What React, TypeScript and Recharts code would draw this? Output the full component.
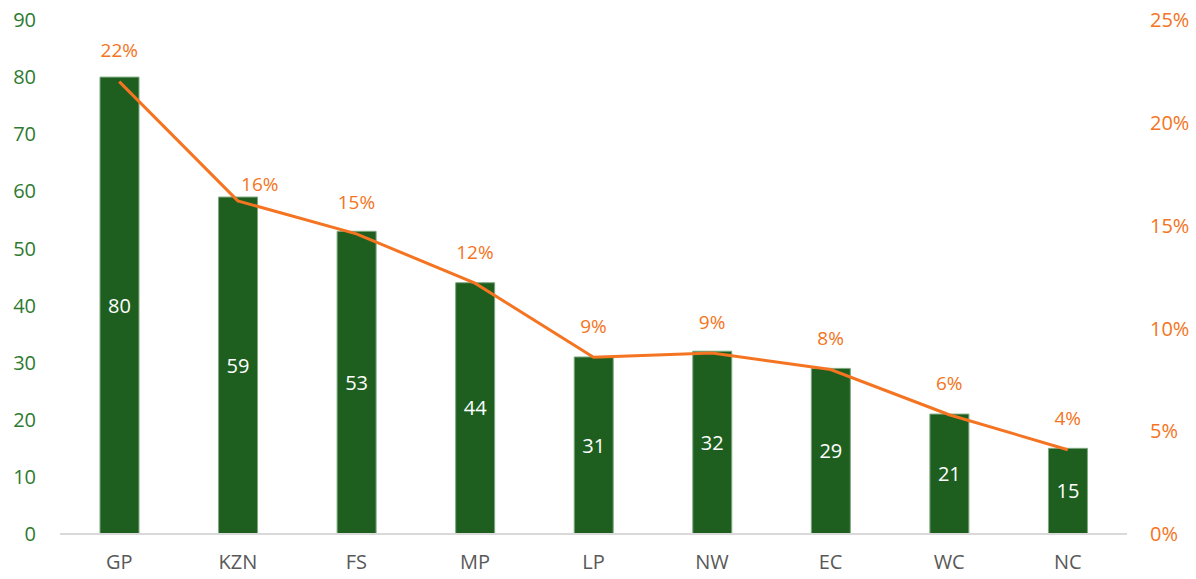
import { ComposedChart, Bar, Line, XAxis, YAxis, CartesianGrid, LabelList } from "recharts";

const provinces = ["GP", "KZN", "FS", "MP", "LP", "NW", "EC", "WC", "NC"];
const counts = [80, 59, 53, 44, 31, 32, 29, 21, 15];
const shares = [0.22, 0.162, 0.146, 0.122, 0.086, 0.088, 0.08, 0.058, 0.041];
const leftTicks = [0, 10, 20, 30, 40, 50, 60, 70, 80, 90];
const rightTicks = [0, 0.05, 0.1, 0.15, 0.2, 0.25];

const data = provinces.map((p, i) => ({ name: p, count: counts[i], share: shares[i] }));

const GREEN = "#1e5f20";
const ORANGE = "#f47421";
const FONT = "'Open Sans', sans-serif";

const pct = (v: number) => `${Math.round(v * 100)}%`;

const ShareLabel = (props: any) => {
  const { x, y, value, index } = props;
  // KZN label sits off to the right in the original
  const dx = index === 1 ? 22 : 0;
  const dy = index === 1 ? -17 : -31;
  return (
    <text x={x + dx} y={y + dy} dy="0.35em" textAnchor="middle" fill={ORANGE} fontSize={19} fontFamily={FONT}>
      {pct(value)}
    </text>
  );
};

export default function App() {
  return (
    <div style={{ position: "absolute", left: 0, top: 0, background: "#fff" }}>
      <ComposedChart
        width={1196}
        height={579}
        data={data}
        margin={{ top: 20, right: 0, left: 0, bottom: 0 }}
      >
        <CartesianGrid vertical={false} horizontal={false} />
        <XAxis
          dataKey="name"
          height={45}
          axisLine={{ stroke: "#d9d9d9", strokeWidth: 2 }}
          tickLine={false}
          tickMargin={15}
          tick={{ fill: "#595959", fontSize: 20, fontFamily: FONT }}
        />
        <YAxis
          yAxisId="left"
          width={60}
          domain={[0, 90]}
          ticks={leftTicks}
          axisLine={false}
          tickLine={false}
          tickMargin={18}
          tick={{ fill: "#2e7a30", fontSize: 20, fontFamily: FONT }}
        />
        <YAxis
          yAxisId="right"
          orientation="right"
          width={69}
          domain={[0, 0.25]}
          ticks={rightTicks}
          tickFormatter={pct}
          axisLine={false}
          tickLine={false}
          tickMargin={17}
          tick={{ fill: ORANGE, fontSize: 20, fontFamily: FONT }}
        />
        <Bar
          yAxisId="left"
          dataKey="count"
          fill={GREEN}
          stroke="#7fa87f"
          strokeWidth={1}
          barSize={39}
          isAnimationActive={false}
        >
          <LabelList dataKey="count" position="center" fill="#ffffff" fontSize={20} fontFamily={FONT} />
        </Bar>
        <Line
          yAxisId="right"
          dataKey="share"
          type="linear"
          stroke={ORANGE}
          strokeWidth={3}
          dot={false}
          isAnimationActive={false}
        >
          <LabelList dataKey="share" content={ShareLabel} />
        </Line>
      </ComposedChart>
    </div>
  );
}
